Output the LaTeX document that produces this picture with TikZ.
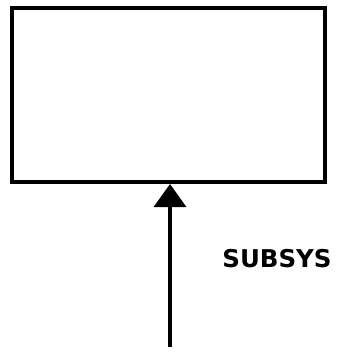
\documentclass[tikz,border=0pt]{standalone}
\usepackage{fontspec}
\setmainfont{DejaVu Sans}
\usetikzlibrary{arrows.meta}
\begin{document}
\begin{tikzpicture}[x=1pt,y=-1pt,
  boxst/.style={draw=black,line width=4pt,minimum width=313pt,minimum height=174pt,inner sep=0pt,fill=white},
  flow/.style={line width=3.5pt,-{Triangle[length=23pt,width=32pt]}},
  lbl/.style={font=\fontsize{24.5}{28}\selectfont\bfseries,inner sep=0pt}]
\useasboundingbox (0,0) rectangle (350,362);
\node[boxst] (box) at (168.5,95) {};
\coordinate (src) at (170,347);
\draw[flow] (src) -- (src |- box.south);
\node[lbl] (sub) at (277,259) {SUBSYS};
\end{tikzpicture}
\end{document}
